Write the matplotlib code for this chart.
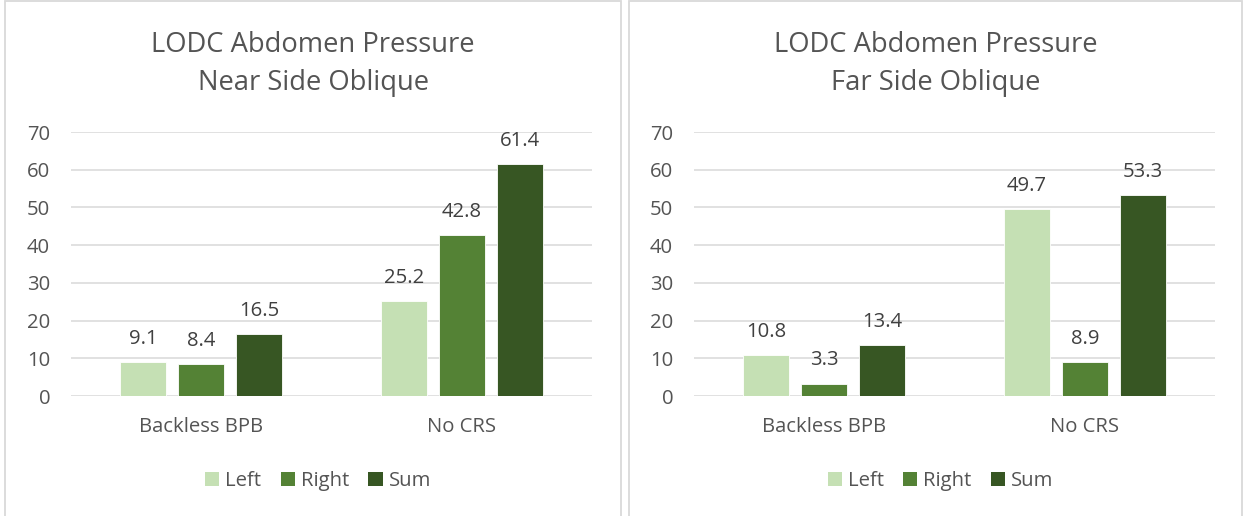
import matplotlib
matplotlib.use("Agg")
import matplotlib.pyplot as plt
from matplotlib.patches import Rectangle, Patch
import numpy as np

categories = ["Backless BPB", "No CRS"]
series_names = ["Left", "Right", "Sum"]
near_left = [9.1, 25.2]
near_right = [8.4, 42.8]
near_sum = [16.5, 61.4]
far_left = [10.8, 49.7]
far_right = [3.3, 8.9]
far_sum = [13.4, 53.3]
titles = ["LODC Abdomen Pressure\nNear Side Oblique", "LODC Abdomen Pressure\nFar Side Oblique"]
yticks = [0, 10, 20, 30, 40, 50, 60, 70]

colors = ["#C5E0B4", "#548235", "#375623"]
text_grey = "#545454"
label_grey = "#404040"
grid_grey = "#D9D9D9"

plt.rcParams['font.family'] = ['Open Sans', 'DejaVu Sans']

W, H = 1243, 516
fig = plt.figure(figsize=(W / 100, H / 100), dpi=100)

def fx(px):
    return px / W

def fy(py):
    return 1 - py / H

panels = [
    dict(x0=5, x1=621, ax_l=71, ax_r=592, data=[near_left, near_right, near_sum], title=titles[0]),
    dict(x0=629, x1=1242, ax_l=694, ax_r=1215, data=[far_left, far_right, far_sum], title=titles[1]),
]

pitch = 58 / 260.5
bw = 46 / 260.5

for p in panels:
    # border
    fig.patches.append(Rectangle((fx(p['x0']), fy(H + 5)), fx(p['x1'] - p['x0']), fy(1) - fy(H + 5),
                                 transform=fig.transFigure, fill=False, edgecolor=grid_grey,
                                 linewidth=1.3, clip_on=False))
    ax = fig.add_axes([fx(p['ax_l']), fy(396), fx(p['ax_r'] - p['ax_l']), fy(132) - fy(396)])
    x = np.arange(len(categories))
    for i, (vals, c, name) in enumerate(zip(p['data'], colors, series_names)):
        bars = ax.bar(x + (i - 1) * pitch, vals, width=bw, color=c, edgecolor='white',
                      linewidth=0.6, zorder=3, label=name)
        for b, v in zip(bars, vals):
            ax.annotate(f"{v:.1f}", (b.get_x() + b.get_width() / 2, v), xytext=(0, 13),
                        textcoords='offset points', ha='center', va='baseline',
                        fontsize=14.6, color=label_grey, zorder=4)
    ax.set_xlim(-0.5, 1.5)
    ax.set_ylim(0, 70)
    ax.set_yticks(yticks)
    ax.set_xticks(x)
    ax.set_xticklabels(categories)
    for s in ax.spines.values():
        s.set_visible(False)
    ax.grid(axis='y', color=grid_grey, linewidth=1.1, zorder=0)
    ax.set_axisbelow(True)
    ax.tick_params(axis='y', length=0, pad=15, labelsize=14.6, labelcolor=text_grey)
    ax.tick_params(axis='x', length=0, pad=15, labelsize=14.6, labelcolor=text_grey)
    ax.patch.set_alpha(0)
    # titles
    cx = fx((p['x0'] + p['x1']) / 2)
    l1, l2 = p['title'].split("\n")
    fig.text(cx, fy(52), l1, ha='center', va='baseline', fontsize=19.7, color=text_grey)
    fig.text(cx, fy(90), l2, ha='center', va='baseline', fontsize=19.7, color=text_grey)
    # legend
    handles = [Patch(facecolor=c, edgecolor='none') for c in colors]
    fig.legend(handles, series_names, loc='center',
               bbox_to_anchor=(fx((p['x0'] + p['x1']) / 2 + 5), fy(481)), ncol=3, frameon=False,
               fontsize=14.6, labelcolor=text_grey, handlelength=0.7, handleheight=0.7,
               handletextpad=0.3, columnspacing=0.95)

fig.savefig("out.png", dpi=100, facecolor='white')
